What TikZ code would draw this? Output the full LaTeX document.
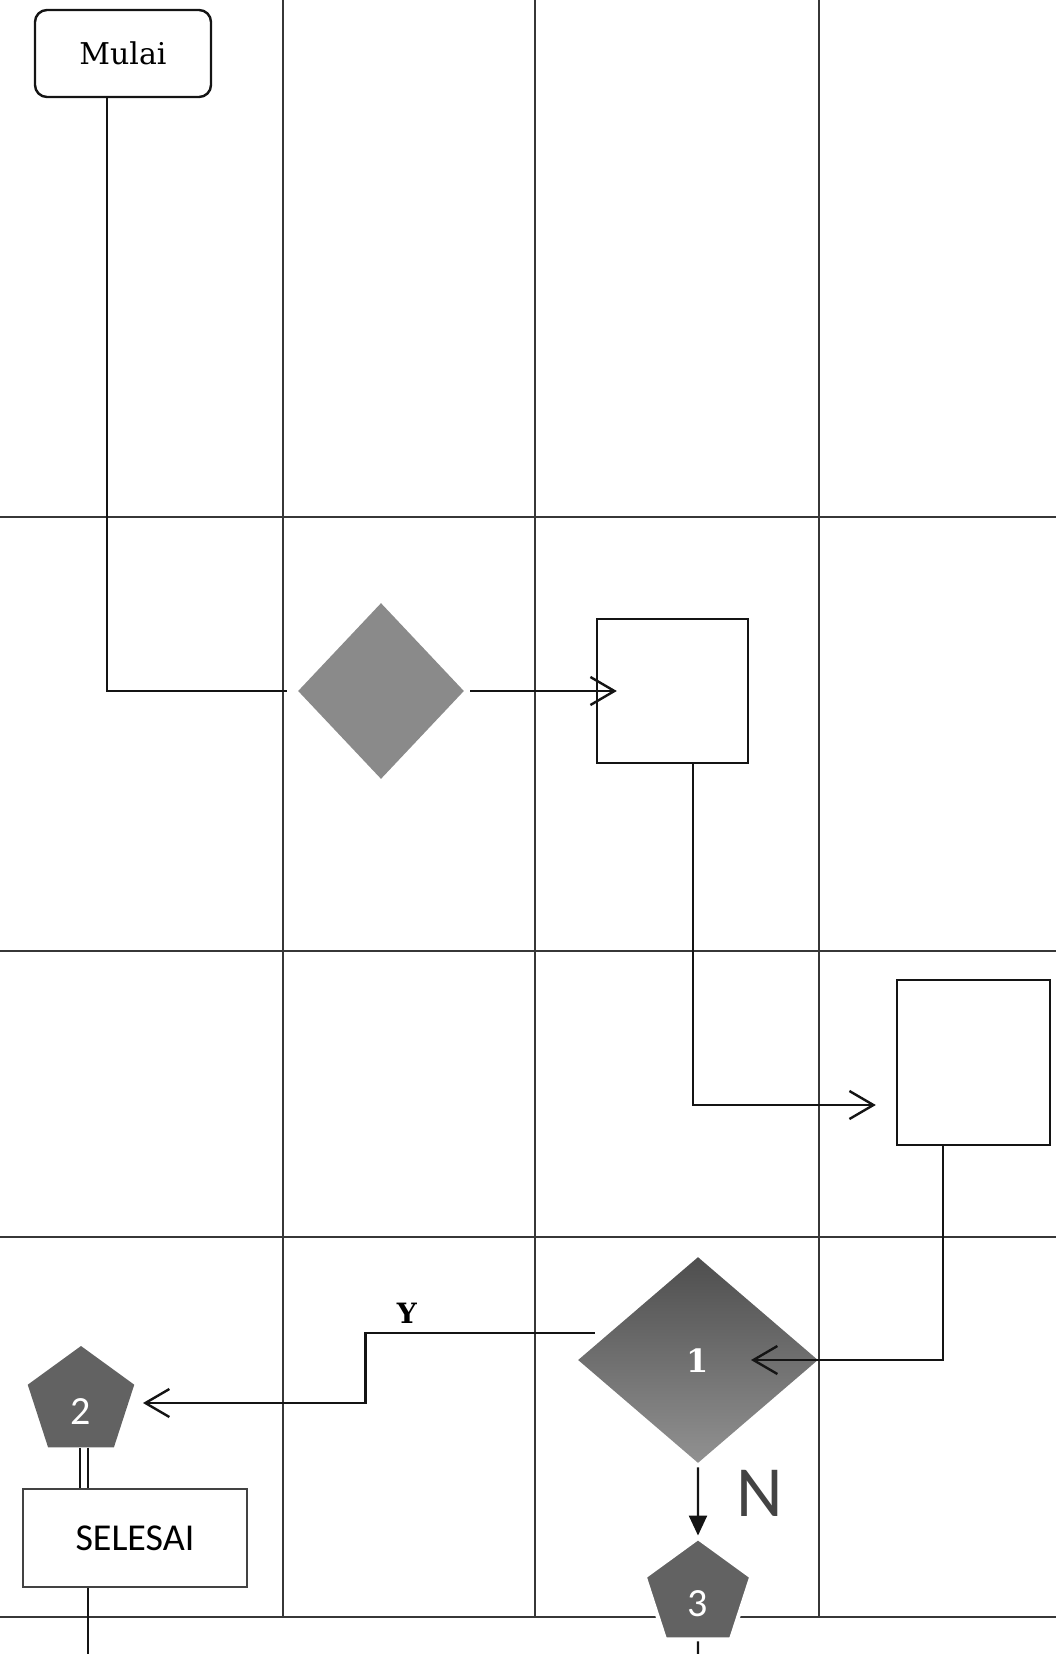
\documentclass[tikz,border=0pt]{standalone}
\usepackage{fontspec}
\newfontfamily\calibri{Carlito}
\newfontfamily\wideserif{DejaVu Serif}
\usepackage{tikz}
\usetikzlibrary{arrows.meta,calc,shapes.geometric}
\definecolor{ink}{RGB}{20,20,20}
\definecolor{laneline}{RGB}{55,55,55}
\definecolor{decfill}{RGB}{138,138,138}
\definecolor{dectop}{RGB}{78,78,78}
\definecolor{decbot}{RGB}{145,145,145}
\definecolor{pentfill}{RGB}{98,98,98}
\tikzset{
  lane/.style={draw=laneline, line width=0.8pt},
  startbox/.style={
    draw=ink, line width=1.2pt, rounded corners=6pt,
    minimum width=88pt, minimum height=43.5pt,
    font=\wideserif\fontsize{15}{18}\selectfont, inner sep=0pt,
  },
  procbox/.style={draw=ink, line width=1.2pt, inner sep=0pt},
  decision/.style={diamond, draw=none, inner sep=0pt},
  pentconn/.style={
    regular polygon, regular polygon sides=5, fill=pentfill,
    minimum size=56pt, inner sep=0pt, text=white,
    text height=22pt, text depth=0pt,
    font=\calibri\fontsize{20}{24}\selectfont,
  },
  endbox/.style={
    draw=ink!80, line width=0.8pt,
    minimum width=112pt, minimum height=49pt,
    font=\calibri\fontsize{19}{22}\selectfont, inner sep=0pt,
  },
  conn/.style={draw=ink, line width=1.2pt},
  arr/.style={conn, -{Straight Barb[length=12pt, width=14pt, line width=1.2pt]}},
  arrfill/.style={conn, -{Triangle[length=10pt, width=9pt]}},
}

\begin{document}
\begin{tikzpicture}[x=0.5pt,y=-0.5pt]
  \useasboundingbox (0,0) rectangle (1056,1654);

  % Swim lanes
  \foreach \x in {283,535,819}
    \draw[lane] (\x,0) -- (\x,1617);
  \foreach \y in {517,951,1237,1617}
    \draw[lane] (0,\y) -- (1056,\y);

  % Flow nodes
  \node[startbox] (mulai) at (123,53.5) {Mulai};
  \node[decision, fill=decfill, minimum width=83pt, minimum height=88pt] (dec1) at (381,691) {};
  \node[procbox, minimum width=75.5pt, minimum height=72pt] (proc1) at (672.5,691) {};
  \node[procbox, minimum width=76.5pt, minimum height=82.5pt] (proc2) at (973.5,1062.5) {};
  \node[decision, top color=dectop, bottom color=decbot, minimum width=120pt, minimum height=103pt,
        text=white, text height=16pt, text depth=4pt,
        font=\wideserif\bfseries\fontsize{16}{19}\selectfont] (dec2) at (698,1360) {1};
  \node[pentconn] (pent2) at (81,1402) {2};
  \node[endbox] (selesai) at (135,1538) {SELESAI};
  \node[pentconn, draw=white, line width=2pt] (pent3) at (698,1594) {3};
  \node[font=\calibri\fontsize{36}{40}\selectfont, text=ink!80] (nlbl) at (760,1493) {N};

  % Free ends
  \coordinate (lnend) at (287,691);
  \coordinate (selout) at (88,1654);
  \coordinate (p3out) at (698,1654);

  % Connectors
  \draw[conn] ($(mulai.south)+(-16,0)$) |- (lnend);
  \draw[arr, shorten <=3pt, shorten >=-10.5pt] (dec1.east) -- (dec1.east -| proc1.west);
  \draw[arr, shorten >=10pt] ($(proc1.south)+(20.5,0)$) |- ($(proc2.west)+(0,42.5)$);
  \draw[arr] ($(proc2.south)+(-30.5,0)$) |- ($(dec2.center)+(53,0)$);
  \draw[arr] ($(dec2.west)+(17,-27)$) -- node[pos=0.82, above=1pt, font=\wideserif\bfseries\fontsize{14}{17}\selectfont] {Y}
    ++(-229,0) |- ($(pent2.center)+(62,1)$);
  \draw[arrfill, shorten <=2pt] (dec2.south) -- (pent3.north);
  \draw[conn, double=white, double distance=3pt, line width=1pt] ($(pent2.south)+(3,0)$) -- ($(pent2.south |- selesai.north)+(3,0)$);
  \draw[conn] (selesai.south -| selout) -- (selout);
  \draw[conn] (pent3.south) -- (p3out);
\end{tikzpicture}
\end{document}
